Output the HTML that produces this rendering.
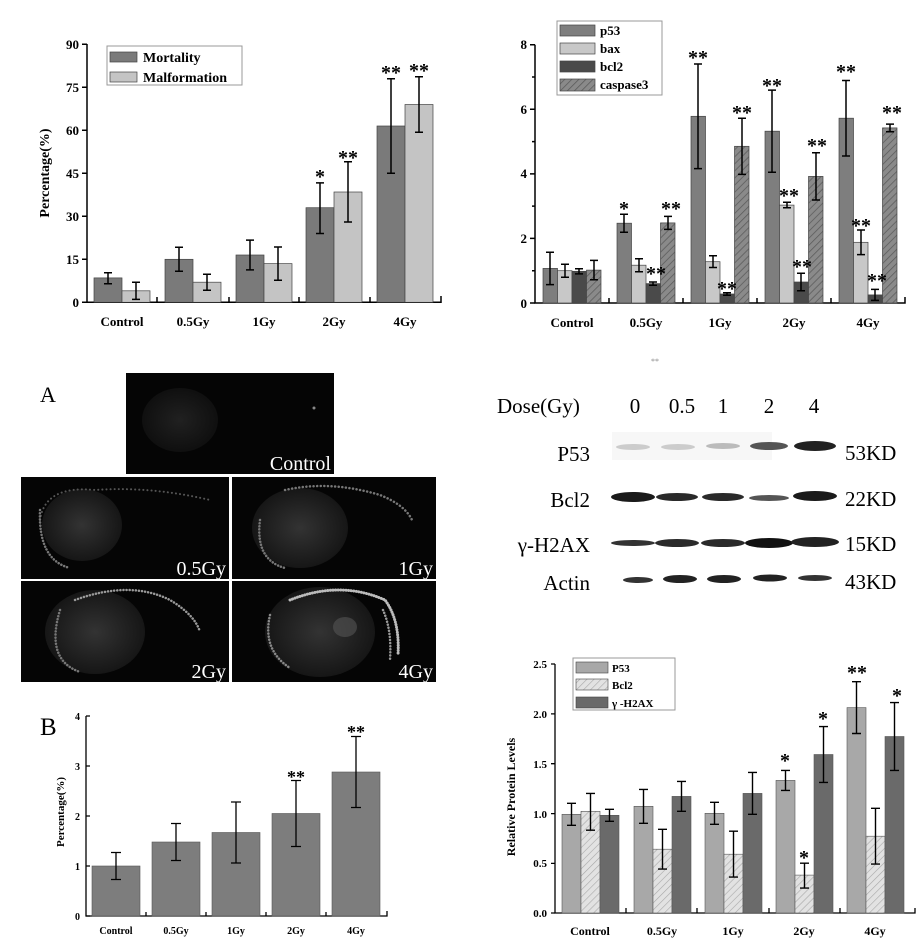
<!DOCTYPE html>
<html><head><meta charset="utf-8"><style>html,body{margin:0;padding:0;background:#fff}svg{display:block}</style></head><body>
<svg width="923" height="948" viewBox="0 0 923 948" xmlns="http://www.w3.org/2000/svg" font-family="Liberation Serif, serif">
<defs>
<pattern id="h1" width="5" height="5" patternUnits="userSpaceOnUse" patternTransform="rotate(45)"><rect width="5" height="5" fill="#8a8a8a"/><line x1="0" y1="0" x2="0" y2="5" stroke="#5a5a5a" stroke-width="1.5"/></pattern>
<pattern id="h2" width="5" height="5" patternUnits="userSpaceOnUse" patternTransform="rotate(45)"><rect width="5" height="5" fill="#e2e2e2"/><line x1="0" y1="0" x2="0" y2="5" stroke="#a8a8a8" stroke-width="1.2"/></pattern>
<radialGradient id="yolk"><stop offset="0" stop-color="#333"/><stop offset="1" stop-color="#161616"/></radialGradient>
</defs>
<g font-weight="bold" fill="#000">
<!-- ===== Chart 1 ===== -->
<g stroke="#000" stroke-width="1.5" fill="none">
<path d="M87,44 V302.3 H441 V296"/>
<path d="M87,44.3 H82 M87,87.3 H82 M87,130.3 H82 M87,173.3 H82 M87,216.3 H82 M87,259.3 H82 M87,302.3 H82"/>
<path d="M157,302 V297 M229,302 V297 M299,302 V297 M370,302 V297"/>
</g>
<g stroke="#444" stroke-width="0.7">
<rect x="94" y="277.9" width="28" height="24.4" fill="#7a7a7a"/>
<rect x="165" y="259.3" width="28" height="43" fill="#7a7a7a"/>
<rect x="236" y="255" width="28" height="47.3" fill="#7a7a7a"/>
<rect x="306" y="207.7" width="28" height="94.6" fill="#7a7a7a"/>
<rect x="377" y="126" width="28" height="176.3" fill="#7a7a7a"/>
<rect x="122" y="290.8" width="28" height="11.5" fill="#c4c4c4"/>
<rect x="193" y="282.2" width="28" height="20.1" fill="#c4c4c4"/>
<rect x="264" y="263.6" width="28" height="38.7" fill="#c4c4c4"/>
<rect x="334" y="192" width="28" height="110.3" fill="#c4c4c4"/>
<rect x="405" y="104.5" width="28" height="197.8" fill="#c4c4c4"/>
</g>
<g stroke="#000" stroke-width="1.5" fill="none">
<path d="M108,272.8V283.7M104,272.8h8M104,283.7h8"/>
<path d="M179,247.3V271.3M175,247.3h8M175,271.3h8"/>
<path d="M250,240.1V269.9M246,240.1h8M246,269.9h8"/>
<path d="M320,182.9V233.5M316,182.9h8M316,233.5h8"/>
<path d="M391,78.7V173.3M387,78.7h8M387,173.3h8"/>
<path d="M136,282.2V299.4M132,282.2h8M132,299.4h8"/>
<path d="M207,274.2V290.3M203,274.2h8M203,290.3h8"/>
<path d="M278,247V280.2M274,247h8M274,280.2h8"/>
<path d="M348,161.8V222M344,161.8h8M344,222h8"/>
<path d="M419,76.7V132.3M415,76.7h8M415,132.3h8"/>
</g>
<g font-size="13" text-anchor="end">
<text x="79" y="49">90</text><text x="79" y="92">75</text><text x="79" y="135">60</text><text x="79" y="178">45</text><text x="79" y="221">30</text><text x="79" y="264">15</text><text x="79" y="307">0</text>
</g>
<g font-size="13" text-anchor="middle">
<text x="122" y="326">Control</text><text x="193" y="326">0.5Gy</text><text x="264" y="326">1Gy</text><text x="334" y="326">2Gy</text><text x="405" y="326">4Gy</text>
</g>
<text transform="translate(49,173) rotate(-90)" font-size="14" text-anchor="middle">Percentage(%)</text>
<rect x="107" y="46" width="135" height="39" fill="#fff" stroke="#999" stroke-width="1"/>
<rect x="110" y="52" width="27" height="10" fill="#7a7a7a" stroke="#444" stroke-width="0.7"/>
<rect x="110" y="72" width="27" height="10" fill="#c4c4c4" stroke="#444" stroke-width="0.7"/>
<text x="143" y="62" font-size="14">Mortality</text>
<text x="143" y="82" font-size="14">Malformation</text>
<g font-size="20" text-anchor="middle">
<text x="320" y="183">*</text><text x="348" y="164">**</text><text x="391" y="79">**</text><text x="419" y="77">**</text>
</g>

<!-- ===== Chart 2 ===== -->
<g stroke="#000" stroke-width="1.5" fill="none">
<path d="M535,44.7 V303 H905 V297"/>
<path d="M535,44.7 H530 M535,109.3 H530 M535,173.9 H530 M535,238.4 H530 M535,303 H530"/>
<path d="M535,77 H532 M535,141.6 H532 M535,206.1 H532 M535,270.7 H532"/>
<path d="M609,303 V298 M683,303 V298 M757,303 V298 M831,303 V298"/>
</g>
<g stroke="#444" stroke-width="0.7">
<rect x="543" y="268.4" width="14.5" height="34.6" fill="#7e7e7e"/>
<rect x="617" y="223.2" width="14.5" height="79.8" fill="#7e7e7e"/>
<rect x="691" y="116.3" width="14.5" height="186.7" fill="#7e7e7e"/>
<rect x="765" y="131.2" width="14.5" height="171.8" fill="#7e7e7e"/>
<rect x="839" y="118.2" width="14.5" height="184.8" fill="#7e7e7e"/>
<rect x="557.5" y="270.7" width="14.5" height="32.3" fill="#c8c8c8"/>
<rect x="631.5" y="265.2" width="14.5" height="37.8" fill="#c8c8c8"/>
<rect x="705.5" y="261.7" width="14.5" height="41.3" fill="#c8c8c8"/>
<rect x="779.5" y="205.1" width="14.5" height="97.9" fill="#c8c8c8"/>
<rect x="853.5" y="242.3" width="14.5" height="60.7" fill="#c8c8c8"/>
<rect x="572" y="271.3" width="14.5" height="31.7" fill="#4a4a4a"/>
<rect x="646" y="283.6" width="14.5" height="19.4" fill="#4a4a4a"/>
<rect x="720" y="294" width="14.5" height="9" fill="#4a4a4a"/>
<rect x="794" y="282" width="14.5" height="21" fill="#4a4a4a"/>
<rect x="868" y="294.9" width="14.5" height="8.1" fill="#4a4a4a"/>
<rect x="586.5" y="270.1" width="14.5" height="32.9" fill="url(#h1)"/>
<rect x="660.5" y="222.9" width="14.5" height="80.1" fill="url(#h1)"/>
<rect x="734.5" y="146.3" width="14.5" height="156.7" fill="url(#h1)"/>
<rect x="808.5" y="176.4" width="14.5" height="126.6" fill="url(#h1)"/>
<rect x="882.5" y="127.9" width="14.5" height="175.1" fill="url(#h1)"/>
</g>
<g stroke="#000" stroke-width="1.5" fill="none">
<path d="M550,252.3V284.6M546,252.3h8M546,284.6h8"/>
<path d="M624,214.2V232.3M620,214.2h8M620,232.3h8"/>
<path d="M698,64V168.6M694,64h8M694,168.6h8"/>
<path d="M772,90.1V172.2M768,90.1h8M768,172.2h8"/>
<path d="M846,80.5V156M842,80.5h8M842,156h8"/>
<path d="M565,264.2V277.2M561,264.2h8M561,277.2h8"/>
<path d="M639,258.7V271.7M635,258.7h8M635,271.7h8"/>
<path d="M713,255.8V267.5M709,255.8h8M709,267.5h8"/>
<path d="M787,202.2V207.7M783,202.2h8M783,207.7h8"/>
<path d="M861,230V254.6M857,230h8M857,254.6h8"/>
<path d="M579,268.8V273.9M575,268.8h8M575,273.9h8"/>
<path d="M653,282V285.2M649,282h8M649,285.2h8"/>
<path d="M727,292.7V295.2M723,292.7h8M723,295.2h8"/>
<path d="M801,273.3V290.7M797,273.3h8M797,290.7h8"/>
<path d="M875,289.4V300.4M871,289.4h8M871,300.4h8"/>
<path d="M594,260.4V279.7M590,260.4h8M590,279.7h8"/>
<path d="M668,216.4V229.4M664,216.4h8M664,229.4h8"/>
<path d="M742,118.2V174.4M738,118.2h8M738,174.4h8"/>
<path d="M816,152.8V200M812,152.8h8M812,200h8"/>
<path d="M890,124.1V131.8M886,124.1h8M886,131.8h8"/>
</g>
<g font-size="13" text-anchor="end">
<text x="527" y="49">8</text><text x="527" y="178">4</text><text x="527" y="114">6</text><text x="527" y="243">2</text><text x="527" y="308">0</text>
</g>
<g font-size="13" text-anchor="middle">
<text x="572" y="327">Control</text><text x="646" y="327">0.5Gy</text><text x="720" y="327">1Gy</text><text x="794" y="327">2Gy</text><text x="868" y="327">4Gy</text>
</g>
<rect x="557" y="21" width="105" height="74" fill="#fff" stroke="#999" stroke-width="1"/>
<rect x="560" y="25" width="35" height="11" fill="#7e7e7e" stroke="#444" stroke-width="0.7"/>
<rect x="560" y="43" width="35" height="11" fill="#c8c8c8" stroke="#444" stroke-width="0.7"/>
<rect x="560" y="61" width="35" height="11" fill="#4a4a4a" stroke="#444" stroke-width="0.7"/>
<rect x="560" y="79" width="35" height="12" fill="url(#h1)" stroke="#444" stroke-width="0.7"/>
<g font-size="13"><text x="600" y="35">p53</text><text x="600" y="53">bax</text><text x="600" y="71">bcl2</text><text x="600" y="89">caspase3</text></g>
<g font-size="20" text-anchor="middle">
<text x="624" y="215">*</text><text x="671" y="215">**</text><text x="656" y="280">**</text>
<text x="698" y="64">**</text><text x="727" y="295">**</text><text x="742" y="119">**</text>
<text x="772" y="92">**</text><text x="789" y="202">**</text><text x="802" y="273">**</text><text x="817" y="152">**</text>
<text x="846" y="78">**</text><text x="861" y="232">**</text><text x="877" y="287">**</text><text x="892" y="119">**</text>
</g>
</g>

<!-- ===== Panel A images ===== -->
<text x="40" y="402" font-size="22" font-weight="normal">A</text>
<g stroke-linecap="round" fill="none">
<rect x="126" y="373" width="208" height="101" fill="#050505"/>
<ellipse cx="180" cy="420" rx="38" ry="32" fill="url(#yolk)" opacity="0.6"/>
<circle cx="314" cy="408" r="1.5" fill="#888"/>
<text x="331" y="470" font-size="20" fill="#fff" text-anchor="end">Control</text>

<rect x="21" y="477" width="208" height="102" fill="#050505"/>
<ellipse cx="82" cy="525" rx="40" ry="36" fill="url(#yolk)"/>
<path d="M40,520 Q45,485 95,490 Q150,486 210,500" stroke="#555" stroke-width="2" stroke-dasharray="0.1 4"/>
<path d="M40,510 Q38,560 70,568" stroke="#777" stroke-width="2.5" stroke-dasharray="0.1 3"/>
<text x="226" y="575" font-size="20" fill="#fff" text-anchor="end">0.5Gy</text>

<rect x="232" y="477" width="204" height="102" fill="#050505"/>
<ellipse cx="300" cy="528" rx="48" ry="40" fill="url(#yolk)"/>
<path d="M285,490 Q330,480 380,495 Q405,505 412,520" stroke="#777" stroke-width="2.5" stroke-dasharray="0.1 3.5"/>
<path d="M260,520 Q255,560 285,568" stroke="#777" stroke-width="2.5" stroke-dasharray="0.1 3"/>
<text x="433" y="575" font-size="20" fill="#fff" text-anchor="end">1Gy</text>

<rect x="21" y="581" width="208" height="101" fill="#050505"/>
<ellipse cx="95" cy="632" rx="50" ry="42" fill="url(#yolk)"/>
<path d="M75,600 Q130,580 170,600 Q195,615 200,632" stroke="#999" stroke-width="2.5" stroke-dasharray="0.1 3"/>
<path d="M60,610 Q45,660 80,672" stroke="#777" stroke-width="2.5" stroke-dasharray="0.1 3"/>
<text x="226" y="678" font-size="20" fill="#fff" text-anchor="end">2Gy</text>

<rect x="232" y="581" width="204" height="101" fill="#050505"/>
<ellipse cx="320" cy="632" rx="55" ry="45" fill="url(#yolk)"/>
<ellipse cx="345" cy="627" rx="12" ry="10" fill="#555" opacity="0.6"/>
<path d="M290,600 Q340,580 385,600 Q400,620 398,655" stroke="#bbb" stroke-width="3" stroke-dasharray="0.1 2.5"/>
<path d="M383,610 Q392,630 390,660" stroke="#999" stroke-width="2.5" stroke-dasharray="0.1 3"/>
<path d="M270,615 Q262,650 290,668" stroke="#888" stroke-width="2.5" stroke-dasharray="0.1 3"/>
<text x="433" y="678" font-size="20" fill="#fff" text-anchor="end">4Gy</text>
</g>

<!-- ===== Western blot ===== -->
<g font-size="21" fill="#000">
<text x="497" y="413">Dose(Gy)</text>
<text x="635" y="413" text-anchor="middle">0</text><text x="682" y="413" text-anchor="middle">0.5</text><text x="723" y="413" text-anchor="middle">1</text><text x="769" y="413" text-anchor="middle">2</text><text x="814" y="413" text-anchor="middle">4</text>
<text x="590" y="461" text-anchor="end">P53</text>
<text x="590" y="507" text-anchor="end">Bcl2</text>
<text x="590" y="552" text-anchor="end">γ-H2AX</text>
<text x="590" y="590" text-anchor="end">Actin</text>
<text x="845" y="460">53KD</text><text x="845" y="506">22KD</text><text x="845" y="551">15KD</text><text x="845" y="589">43KD</text>
</g>
<text x="655" y="364" font-size="8" fill="#888" text-anchor="middle">**</text>
<g>
<rect x="612" y="432" width="160" height="28" fill="#f7f7f7"/>
<ellipse cx="633" cy="447" rx="17" ry="3" fill="#ccc"/>
<ellipse cx="678" cy="447" rx="17" ry="3" fill="#ccc"/>
<ellipse cx="723" cy="446" rx="17" ry="3" fill="#bbb"/>
<ellipse cx="769" cy="446" rx="19" ry="4" fill="#555"/>
<ellipse cx="815" cy="446" rx="21" ry="5" fill="#222"/>
<ellipse cx="633" cy="497" rx="22" ry="5" fill="#1a1a1a"/>
<ellipse cx="677" cy="497" rx="21" ry="4" fill="#2a2a2a"/>
<ellipse cx="723" cy="497" rx="21" ry="4" fill="#2a2a2a"/>
<ellipse cx="769" cy="498" rx="20" ry="3" fill="#555"/>
<ellipse cx="815" cy="496" rx="22" ry="5" fill="#1a1a1a"/>
<ellipse cx="633" cy="543" rx="22" ry="3" fill="#333"/>
<ellipse cx="677" cy="543" rx="22" ry="4" fill="#2a2a2a"/>
<ellipse cx="723" cy="543" rx="22" ry="4" fill="#2a2a2a"/>
<ellipse cx="769" cy="543" rx="24" ry="5" fill="#111"/>
<ellipse cx="815" cy="542" rx="24" ry="5" fill="#222"/>
<ellipse cx="638" cy="580" rx="15" ry="3" fill="#333"/>
<ellipse cx="680" cy="579" rx="17" ry="4" fill="#222"/>
<ellipse cx="724" cy="579" rx="17" ry="4" fill="#222"/>
<ellipse cx="770" cy="578" rx="17" ry="3.5" fill="#222"/>
<ellipse cx="815" cy="578" rx="17" ry="3" fill="#333"/>
</g>

<!-- ===== Chart B ===== -->
<text x="40" y="735" font-size="25">B</text>
<g font-weight="bold">
<g stroke="#000" stroke-width="1.3" fill="none">
<path d="M86,716 V916 H387 V911"/>
<path d="M86,716 H90 M86,766 H90 M86,816 H90 M86,866 H90 M86,916 H90"/>
<path d="M146,916 V912 M206,916 V912 M266,916 V912 M326,916 V912"/>
</g>
<g fill="#7d7d7d" stroke="#555" stroke-width="0.6">
<rect x="92" y="866" width="48" height="50"/>
<rect x="152" y="842" width="48" height="74"/>
<rect x="212" y="832.5" width="48" height="83.5"/>
<rect x="272" y="813.5" width="48" height="102.5"/>
<rect x="332" y="772" width="48" height="144"/>
</g>
<g stroke="#000" stroke-width="1.3" fill="none">
<path d="M116,852.5V879.5M111,852.5h10M111,879.5h10"/>
<path d="M176,823.5V860.5M171,823.5h10M171,860.5h10"/>
<path d="M236,802V863M231,802h10M231,863h10"/>
<path d="M296,780.5V846.5M291,780.5h10M291,846.5h10"/>
<path d="M356,736.5V807.5M351,736.5h10M351,807.5h10"/>
</g>
<g font-size="10" text-anchor="end"><text x="80" y="720">4</text><text x="80" y="770">3</text><text x="80" y="820">2</text><text x="80" y="870">1</text><text x="80" y="920">0</text></g>
<g font-size="10" text-anchor="middle"><text x="116" y="934">Control</text><text x="176" y="934">0.5Gy</text><text x="236" y="934">1Gy</text><text x="296" y="934">2Gy</text><text x="356" y="934">4Gy</text></g>
<text transform="translate(64,812) rotate(-90)" font-size="11" text-anchor="middle">Percentage(%)</text>
<g font-size="18" text-anchor="middle"><text x="296" y="783">**</text><text x="356" y="738">**</text></g>
</g>

<!-- ===== Bottom-right chart ===== -->
<g font-weight="bold">
<g stroke="#000" stroke-width="1.3" fill="none">
<path d="M555,664 V913 H915 V908"/>
<path d="M555,664 H551 M555,713.9 H551 M555,763.7 H551 M555,813.6 H551 M555,863.4 H551 M555,913 H551"/>
<path d="M626,913 V908 M697,913 V908 M769,913 V908 M840,913 V908"/>
</g>
<g stroke="#555" stroke-width="0.6">
<rect x="562" y="814.3" width="19" height="98.7" fill="#a8a8a8"/>
<rect x="634" y="806.3" width="19" height="106.7" fill="#a8a8a8"/>
<rect x="705" y="813.3" width="19" height="99.7" fill="#a8a8a8"/>
<rect x="776" y="780.4" width="19" height="132.6" fill="#a8a8a8"/>
<rect x="847" y="707.6" width="19" height="205.4" fill="#a8a8a8"/>
<rect x="581" y="811.3" width="19" height="101.7" fill="url(#h2)"/>
<rect x="653" y="849.2" width="19" height="63.8" fill="url(#h2)"/>
<rect x="724" y="854.2" width="19" height="58.8" fill="url(#h2)"/>
<rect x="795" y="875.1" width="19" height="37.9" fill="url(#h2)"/>
<rect x="866" y="836.2" width="19" height="76.8" fill="url(#h2)"/>
<rect x="600" y="815.3" width="19" height="97.7" fill="#6a6a6a"/>
<rect x="672" y="796.4" width="19" height="116.6" fill="#6a6a6a"/>
<rect x="743" y="793.4" width="19" height="119.6" fill="#6a6a6a"/>
<rect x="814" y="754.5" width="19" height="158.5" fill="#6a6a6a"/>
<rect x="885" y="736.5" width="19" height="176.5" fill="#6a6a6a"/>
</g>
<g stroke="#000" stroke-width="1.4" fill="none">
<path d="M571.5,803.3V825.3M567,803.3h9M567,825.3h9"/>
<path d="M643.5,789.4V823.3M639,789.4h9M639,823.3h9"/>
<path d="M714.5,802.3V824.3M710,802.3h9M710,824.3h9"/>
<path d="M785.5,770.4V790.4M781,770.4h9M781,790.4h9"/>
<path d="M856.5,681.7V733.5M852,681.7h9M852,733.5h9"/>
<path d="M590.5,793.4V830.2M586,793.4h9M586,830.2h9"/>
<path d="M662.5,829.3V869.1M658,829.3h9M658,869.1h9"/>
<path d="M733.5,831.2V877.1M729,831.2h9M729,877.1h9"/>
<path d="M804.5,863.2V888.1M800,863.2h9M800,888.1h9"/>
<path d="M875.5,808.3V864.1M871,808.3h9M871,864.1h9"/>
<path d="M609.5,809.3V821.3M605,809.3h9M605,821.3h9"/>
<path d="M681.5,781.4V811.3M677,781.4h9M677,811.3h9"/>
<path d="M752.5,772.4V814.3M748,772.4h9M748,814.3h9"/>
<path d="M823.5,726.6V782.4M819,726.6h9M819,782.4h9"/>
<path d="M894.5,702.6V770.4M890,702.6h9M890,770.4h9"/>
</g>
<g font-size="11" text-anchor="end"><text x="547" y="668">2.5</text><text x="547" y="718">2.0</text><text x="547" y="768">1.5</text><text x="547" y="818">1.0</text><text x="547" y="867">0.5</text><text x="547" y="917">0.0</text></g>
<g font-size="12" text-anchor="middle"><text x="590" y="935">Control</text><text x="662" y="935">0.5Gy</text><text x="733" y="935">1Gy</text><text x="804" y="935">2Gy</text><text x="875" y="935">4Gy</text></g>
<text transform="translate(515,797) rotate(-90)" font-size="12" text-anchor="middle">Relative Protein Levels</text>
<rect x="573" y="658" width="102" height="52" fill="#fff" stroke="#999" stroke-width="1"/>
<rect x="576" y="662" width="32" height="11" fill="#a8a8a8" stroke="#444" stroke-width="0.6"/>
<rect x="576" y="679" width="32" height="11" fill="url(#h2)" stroke="#444" stroke-width="0.6"/>
<rect x="576" y="697" width="32" height="11" fill="#6a6a6a" stroke="#444" stroke-width="0.6"/>
<g font-size="11"><text x="612" y="672">P53</text><text x="612" y="689">Bcl2</text><text x="612" y="707">γ  -H2AX</text></g>
<g font-size="20" text-anchor="middle"><text x="785" y="767">*</text><text x="804" y="864">*</text><text x="823" y="725">*</text><text x="857" y="679">**</text><text x="897" y="702">*</text></g>
</g>
</svg>
</body></html>
